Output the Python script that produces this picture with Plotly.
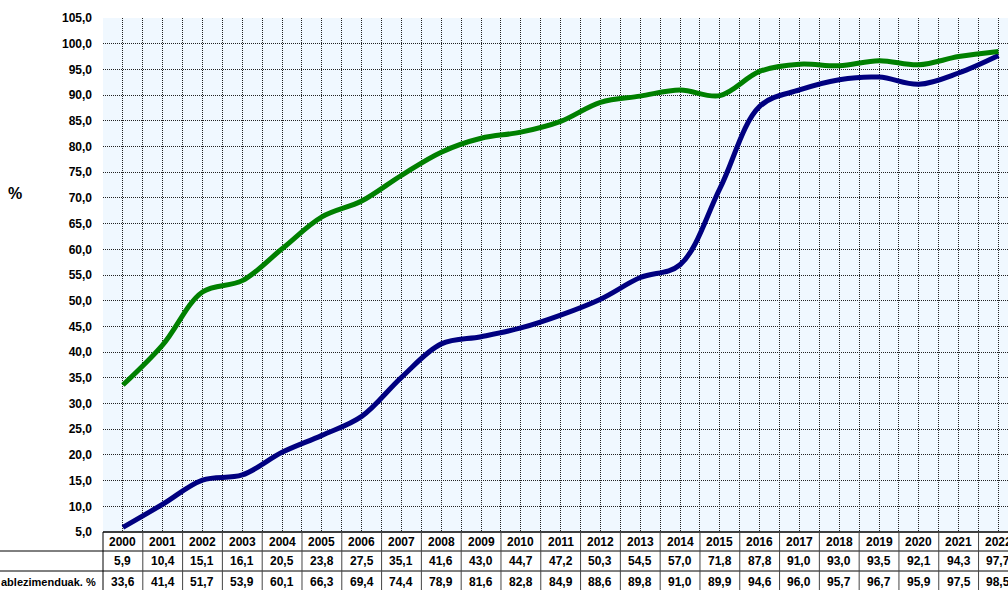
import plotly.graph_objects as go

years = [str(y) for y in range(2000, 2023)]
series_blue = [5.9, 10.4, 15.1, 16.1, 20.5, 23.8, 27.5, 35.1, 41.6, 43.0, 44.7, 47.2,
               50.3, 54.5, 57.0, 71.8, 87.8, 91.0, 93.0, 93.5, 92.1, 94.3, 97.7]
series_green = [33.6, 41.4, 51.7, 53.9, 60.1, 66.3, 69.4, 74.4, 78.9, 81.6, 82.8, 84.9,
                88.6, 89.8, 91.0, 89.9, 94.6, 96.0, 95.7, 96.7, 95.9, 97.5, 98.5]
row_labels = ["", "ablezimenduak. %"]
y_label = "%"

W, H = 1008, 590
ML, MT, MB = 103, 18, 58
PH = H - MT - MB

def fmt(v):
    return f"{v:.1f}".replace(".", ",")

xs = list(range(len(years)))

fig = go.Figure()
fig.add_trace(go.Scatter(x=xs, y=series_blue, mode="lines",
                         line=dict(color="#000080", width=5, shape="spline", smoothing=1.0),
                         hoverinfo="skip", showlegend=False))
fig.add_trace(go.Scatter(x=xs, y=series_green, mode="lines",
                         line=dict(color="#008000", width=5, shape="spline", smoothing=1.0),
                         hoverinfo="skip", showlegend=False))

font_b = dict(family="Liberation Sans, Arial, sans-serif", size=12, color="black", weight="bold")
font_lab = dict(family="Liberation Sans, Arial, sans-serif", size=11, color="black", weight="bold")

annotations = []
shapes = []

def py(px):
    # pixel offset below plot bottom -> paper y
    return -px / PH

row_centers = [10, 29, 50]
for i, yr in enumerate(years):
    annotations.append(dict(x=i, y=0, xref="x", yref="paper", text=yr, showarrow=False,
                            xanchor="center", yanchor="middle", yshift=-row_centers[0], font=font_b))
    annotations.append(dict(x=i, y=0, xref="x", yref="paper", text=fmt(series_blue[i]), showarrow=False,
                            xanchor="center", yanchor="middle", yshift=-row_centers[1], font=font_b))
    annotations.append(dict(x=i, y=0, xref="x", yref="paper", text=fmt(series_green[i]), showarrow=False,
                            xanchor="center", yanchor="middle", yshift=-row_centers[2], font=font_b))

for k, lab in enumerate(row_labels):
    if lab:
        annotations.append(dict(x=0, y=0, xref="paper", yref="paper", text=lab, showarrow=False,
                                xanchor="right", yanchor="middle", xshift=-5,
                                yshift=-row_centers[k + 1], font=font_lab))

annotations.append(dict(x=(15 - ML) / (W - ML), y=(H - MB - 193) / PH,
                        xref="paper", yref="paper", text=y_label, showarrow=False,
                        xanchor="center", yanchor="middle",
                        font=dict(family="Liberation Sans, Arial, sans-serif", size=16,
                                  color="black", weight="bold")))

# table lines
shapes.append(dict(type="line", xref="paper", yref="paper", x0=0, x1=1, y0=0, y1=0,
                   line=dict(color="black", width=1.5)))
for ypx in (19, 39):
    shapes.append(dict(type="line", xref="paper", yref="paper", x0=-ML / (W - ML), x1=1,
                       y0=py(ypx), y1=py(ypx), line=dict(color="black", width=1)))
shapes.append(dict(type="line", xref="paper", yref="paper", x0=0, x1=0,
                   y0=0, y1=py(MB), line=dict(color="black", width=1)))
for i in range(len(years)):
    shapes.append(dict(type="line", xref="x", yref="paper", x0=i + 0.5, x1=i + 0.5,
                       y0=0, y1=py(MB), line=dict(color="#444", width=1)))

fig.update_layout(
    width=W, height=H,
    margin=dict(l=ML, r=0, t=MT, b=MB, pad=0),
    paper_bgcolor="white",
    plot_bgcolor="#F0F8FF",
    separators=",.",
    annotations=annotations,
    shapes=shapes,
    xaxis=dict(range=[-0.5, 22.24], tick0=-0.5, dtick=0.5, showticklabels=False,
               showgrid=True, gridcolor="#222", griddash="1px,1px", gridwidth=1,
               zeroline=False, showline=False, ticks=""),
    yaxis=dict(range=[5, 105], dtick=5, tick0=5, tickformat=".1f",
               showgrid=True, gridcolor="#222", griddash="1px,1px", gridwidth=1,
               zeroline=False, showline=False, ticks="", ticklabelstandoff=10,
               tickfont=font_b),
)

fig.write_html("out.html", config={"displayModeBar": False},
               post_script="document.body.style.margin='0';document.body.style.overflow='hidden';")
